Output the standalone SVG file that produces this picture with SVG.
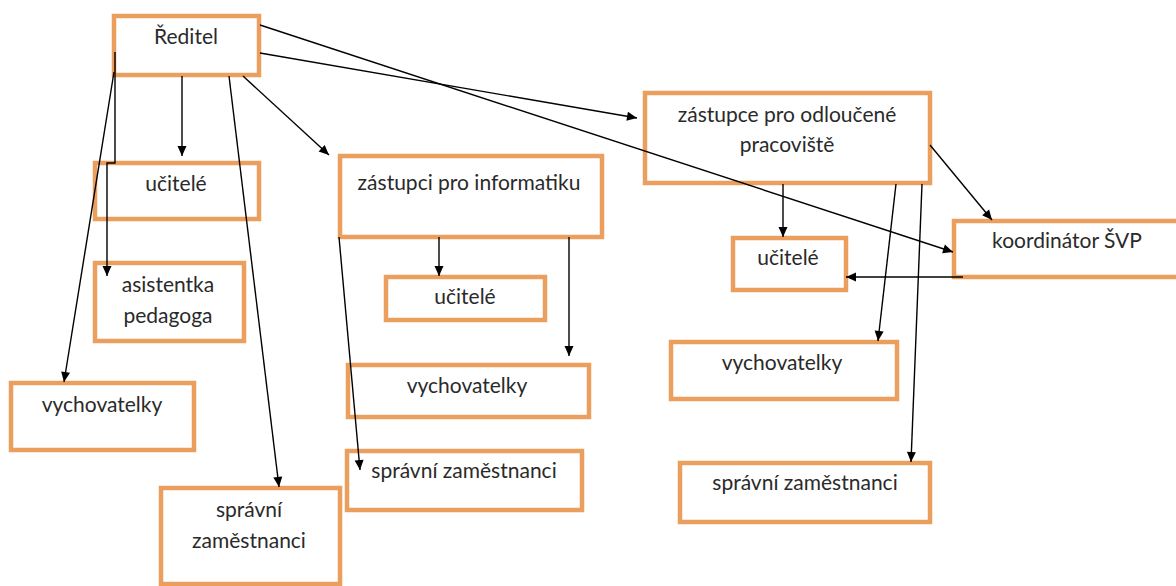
<svg xmlns="http://www.w3.org/2000/svg" width="1176" height="586" viewBox="0 0 1176 586">
<defs>
<style>
.box{fill:#fff;stroke:#EB9F5E;stroke-width:4.5}
.t{font-family:Lato,"Open Sans","Liberation Sans",sans-serif;font-size:21px;fill:#2a2a2a;text-anchor:middle}
.c{fill:none;stroke:#000;stroke-width:1.4}
</style>
<marker id="ah" viewBox="0 0 10 10" refX="10" refY="5" markerWidth="11" markerHeight="10" markerUnits="userSpaceOnUse" orient="auto">
<path d="M0,0.5 L10,5 L0,9.5 Z" fill="#000"/>
</marker>
</defs>
<rect width="1176" height="586" fill="#fff"/>
<g id="n-reditel"><rect class="box" x="114" y="16" width="145" height="59"/><text class="t" x="186" y="44">Ředitel</text></g>
<g id="n-ucitele1"><rect class="box" x="95" y="163" width="164" height="56"/><text class="t" x="176" y="191">učitelé</text></g>
<g id="n-asistentka"><rect class="box" x="95" y="263" width="149" height="78"/><text class="t" x="168" y="292">asistentka</text><text class="t" x="168" y="323">pedagoga</text></g>
<g id="n-vych1"><rect class="box" x="11" y="383" width="183" height="67"/><text class="t" x="102" y="412">vychovatelky</text></g>
<g id="n-spr1"><rect class="box" x="161" y="488" width="179" height="96"/><text class="t" x="249" y="517">správní</text><text class="t" x="249" y="548">zaměstnanci</text></g>
<g id="n-zinf"><rect class="box" x="340" y="156" width="262" height="81"/><text class="t" x="469" y="190">zástupci pro informatiku</text></g>
<g id="n-ucitele2"><rect class="box" x="386" y="277" width="159" height="43"/><text class="t" x="465" y="304">učitelé</text></g>
<g id="n-vych2"><rect class="box" x="348" y="365" width="241" height="52"/><text class="t" x="467" y="393">vychovatelky</text></g>
<g id="n-spr2"><rect class="box" x="347" y="451" width="235" height="59"/><text class="t" x="464" y="478">správní zaměstnanci</text></g>
<g id="n-zodl"><rect class="box" x="645" y="93" width="285" height="90"/><text class="t" x="787" y="122">zástupce pro odloučené</text><text class="t" x="787" y="152">pracoviště</text></g>
<g id="n-koord"><rect class="box" x="954" y="221" width="230" height="56"/><text class="t" x="1067" y="248">koordinátor ŠVP</text></g>
<g id="n-ucitele3"><rect class="box" x="733" y="238" width="113" height="52"/><text class="t" x="788" y="265">učitelé</text></g>
<g id="n-vych3"><rect class="box" x="671" y="342" width="226" height="57"/><text class="t" x="782" y="370">vychovatelky</text></g>
<g id="n-spr3"><rect class="box" x="680" y="463" width="250" height="59"/><text class="t" x="805" y="490">správní zaměstnanci</text></g>
<g id="connectors">
<path class="c" marker-end="url(#ah)" d="M182,76 L182,156"/>
<path class="c" marker-end="url(#ah)" d="M243,76 L329,155"/>
<path class="c" marker-end="url(#ah)" d="M115,52 L115,163 L107,163 L107,276"/>
<path class="c" marker-end="url(#ah)" d="M114,72 L64,382"/>
<path class="c" marker-end="url(#ah)" d="M229,76 L279,487"/>
<path class="c" marker-end="url(#ah)" d="M260,53 L637,118"/>
<path class="c" marker-end="url(#ah)" d="M260,25 L953,252"/>
<path class="c" marker-end="url(#ah)" d="M439,237 L439,276"/>
<path class="c" marker-end="url(#ah)" d="M569,237 L569,356"/>
<path class="c" marker-end="url(#ah)" d="M339,237 L360,470"/>
<path class="c" marker-end="url(#ah)" d="M783,184 L783,237"/>
<path class="c" marker-end="url(#ah)" d="M930,145 L992,220"/>
<path class="c" marker-end="url(#ah)" d="M896,184 L878,341"/>
<path class="c" marker-end="url(#ah)" d="M922,184 L911,462"/>
<path class="c" marker-end="url(#ah)" d="M963,277 L846,277"/>
</g>
</svg>
